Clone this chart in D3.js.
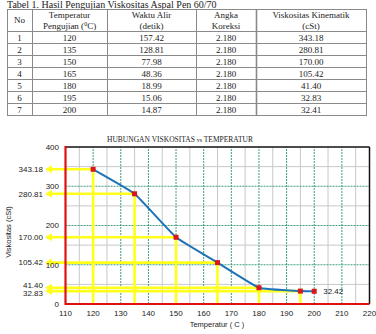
<!DOCTYPE html>
<html lang="id">
<head>
<meta charset="UTF-8">
<title>Viskositas vs Temperatur</title>
<script src="https://d3js.org/d3.v7.min.js"></script>
<style>
    body { margin: 0; background: #fff; }
    .serif { font-family: "Liberation Serif", "Times New Roman", serif; fill: #222; }
    .sans { font-family: "Liberation Sans", Arial, sans-serif; fill: #222; }
</style>
</head>
<body>
<svg id="chart"></svg>
<script>
    // table data
    const rowNo = [1, 2, 3, 4, 5, 6, 7];
    const suhu = [120, 135, 150, 165, 180, 195, 200];
    const waktu = ["157.42", "128.81", "77.98", "48.36", "18.99", "15.06", "14.87"];
    const koreksi = ["2.180", "2.180", "2.180", "2.180", "2.180", "2.180", "2.180"];
    const viskositas = [343.18, 280.81, 170.00, 105.42, 41.40, 32.83, 32.41];
    const viskText = ["343.18", "280.81", "170.00", "105.42", "41.40", "32.83", "32.41"];

    // chart labels (last point label as printed in the figure)
    const arrowLabels = ["343.18", "280.81", "170.00", "105.42", "41.40", "32.83"];
    const lastLabel = "32.42";
    const xTicks = d3.range(110, 221, 10);
    const yTicks = [0, 100, 200, 300, 400];

    const W = 376, H = 334;
    const svg = d3.select("#chart").attr("width", W).attr("height", H);

    // ---- table ----
    svg.append("text").attr("class", "serif")
        .attr("x", 7).attr("y", 8).attr("font-size", 10)
        .text("Tabel 1. Hasil Pengujian Viskositas Aspal Pen 60/70");

    const colX = [7, 32, 107, 196, 256, 366];
    const headTop = 9, headBot = 31, rowH = 12;
    const tableBot = headBot + rowH * rowNo.length;
    const tbl = svg.append("g");

    // horizontal lines
    const hLines = [headTop, headBot].concat(rowNo.map((d, i) => headBot + rowH * (i + 1)));
    tbl.selectAll("line.h").data(hLines).enter().append("line")
        .attr("x1", colX[0]).attr("x2", colX[5])
        .attr("y1", d => d + 0.5).attr("y2", d => d + 0.5)
        .attr("stroke", "#8a8a8a").attr("stroke-width", 1);
    tbl.selectAll("line.v").data(colX).enter().append("line")
        .attr("x1", d => d + 0.5).attr("x2", d => d + 0.5)
        .attr("y1", headTop).attr("y2", tableBot + 1)
        .attr("stroke", "#8a8a8a").attr("stroke-width", (d, i) => i == 4 ? 1.6 : 1);

    const colC = colX.slice(0, 5).map((d, i) => (d + colX[i + 1]) / 2);
    const hdr1 = ["No", "Temperatur", "Waktu Alir", "Angka", "Viskositas Kinematik"];
    const hdr2 = ["", "Pengujian (", "(detik)", "Koreksi", "(cSt)"];
    hdr1.forEach((t, i) => {
        tbl.append("text").attr("class", "serif").attr("font-size", 9)
            .attr("text-anchor", "middle")
            .attr("x", colC[i]).attr("y", i == 0 ? 23 : 18).text(t);
    });
    hdr2.forEach((t, i) => {
        if (!t) return;
        const tx = tbl.append("text").attr("class", "serif").attr("font-size", 9)
            .attr("text-anchor", "middle").attr("x", colC[i]).attr("y", 28.5);
        if (i == 1) {
            tx.append("tspan").text("Pengujian (");
            tx.append("tspan").attr("font-size", 6).attr("dy", -3).text("0");
            tx.append("tspan").attr("dy", 3).text("C)");
        } else {
            tx.text(t);
        }
    });

    const rows = rowNo.map((d, i) => [String(d), String(suhu[i]), waktu[i], koreksi[i], viskText[i]]);
    rows.forEach((r, ri) => {
        r.forEach((t, ci) => {
            tbl.append("text").attr("class", "serif").attr("font-size", 9)
                .attr("text-anchor", "middle")
                .attr("x", colC[ci]).attr("y", headBot + rowH * ri + 9.5)
                .text(t);
        });
    });

    // ---- chart ----
    const x = d3.scaleLinear().domain([110, 220]).range([65.5, 369.5]);
    const y = d3.scaleLinear().domain([0, 400]).range([304, 147]);

    const grid = svg.append("g");
    // minor grid
    grid.selectAll("line.mx").data(d3.range(115, 220, 10)).enter().append("line")
        .attr("x1", d => x(d)).attr("x2", d => x(d)).attr("y1", y(0)).attr("y2", y(400))
        .attr("stroke", "#c8c8c8").attr("stroke-width", 1);
    grid.selectAll("line.my").data(d3.range(50, 400, 100)).enter().append("line")
        .attr("x1", x(110)).attr("x2", x(220)).attr("y1", d => y(d)).attr("y2", d => y(d))
        .attr("stroke", "#c8c8c8").attr("stroke-width", 1);
    // major dashed grid
    grid.selectAll("line.Mx").data(d3.range(120, 220, 10)).enter().append("line")
        .attr("x1", d => x(d)).attr("x2", d => x(d)).attr("y1", y(0)).attr("y2", y(400))
        .attr("stroke", "#3f9f78").attr("stroke-width", 1).attr("stroke-dasharray", "2,1");
    grid.selectAll("line.My").data([100, 200, 300]).enter().append("line")
        .attr("x1", x(110)).attr("x2", x(220)).attr("y1", d => y(d)).attr("y2", d => y(d))
        .attr("stroke", "#3f9f78").attr("stroke-width", 1).attr("stroke-dasharray", "2,1");

    // yellow guide lines with arrows
    const pts = suhu.map((t, i) => ({ t: t, v: viskositas[i] }));
    const guides = pts.slice(0, arrowLabels.length);
    const yel = svg.append("g");
    const yellow = "#ffff1a";
    guides.forEach(p => {
        yel.append("line").attr("x1", x(p.t)).attr("x2", x(p.t))
            .attr("y1", y(p.v)).attr("y2", y(0))
            .attr("stroke", yellow).attr("stroke-width", 2.6);
        yel.append("line").attr("x1", 50).attr("x2", x(p.t))
            .attr("y1", y(p.v)).attr("y2", y(p.v))
            .attr("stroke", yellow).attr("stroke-width", 2.6);
        yel.append("path")
            .attr("d", `M45,${y(p.v)} L52,${y(p.v) - 4} L52,${y(p.v) + 4} Z`)
            .attr("fill", yellow);
    });

    // axis frame
    svg.append("line").attr("x1", x(110)).attr("x2", x(220)).attr("y1", y(400)).attr("y2", y(400))
        .attr("stroke", "#111").attr("stroke-width", 1.5);
    svg.append("line").attr("x1", x(220)).attr("x2", x(220)).attr("y1", y(400)).attr("y2", y(0))
        .attr("stroke", "#111").attr("stroke-width", 1.5);
    svg.append("line").attr("x1", x(110)).attr("x2", x(220)).attr("y1", y(0)).attr("y2", y(0))
        .attr("stroke", "#e01010").attr("stroke-width", 2.2);
    svg.append("line").attr("x1", x(110)).attr("x2", x(110)).attr("y1", y(400) - 1).attr("y2", y(0) + 1)
        .attr("stroke", "#e01010").attr("stroke-width", 2.2);

    // data line (lightly smoothed)
    const line = d3.line().x(d => x(d.t)).y(d => y(d.v)).curve(d3.curveCardinal.tension(0.7));
    svg.append("path").datum(pts).attr("d", line)
        .attr("fill", "none").attr("stroke", "#1d72b8").attr("stroke-width", 2);
    svg.selectAll("rect.pt").data(pts).enter().append("rect")
        .attr("x", d => x(d.t) - 2.5).attr("y", d => y(d.v) - 2.5)
        .attr("width", 5).attr("height", 5).attr("fill", "#d81818");

    // value labels on the left, nudged apart where they collide
    const lab = guides.map((p, i) => ({ text: arrowLabels[i], y: y(p.v) }));
    for (let i = 1; i < lab.length; i++) {
        const gap = lab[i].y - lab[i - 1].y;
        if (gap < 8) {
            const mid = (lab[i].y + lab[i - 1].y) / 2;
            lab[i - 1].y = mid - 4;
            lab[i].y = mid + 4;
        }
    }
    svg.selectAll("text.vl").data(lab).enter().append("text")
        .attr("class", "sans").attr("font-size", 8).attr("text-anchor", "end")
        .attr("x", 43).attr("y", d => d.y).attr("dy", "0.35em").text(d => d.text);
    const last = pts[pts.length - 1];
    svg.append("text").attr("class", "sans").attr("font-size", 8)
        .attr("x", x(last.t) + 9).attr("y", y(last.v)).attr("dy", "0.35em").text(lastLabel);

    // tick labels
    svg.selectAll("text.xt").data(xTicks).enter().append("text")
        .attr("class", "sans").attr("font-size", 8).attr("text-anchor", "middle")
        .attr("x", d => x(d)).attr("y", 316).text(d => d);
    svg.selectAll("text.yt").data(yTicks).enter().append("text")
        .attr("class", "sans").attr("font-size", 8).attr("text-anchor", "end")
        .attr("x", 59).attr("y", d => y(d)).attr("dy", "0.35em").text(d => d);

    // titles
    const title = svg.append("text").attr("class", "serif").attr("font-size", 7.5)
        .attr("x", 107).attr("y", 142);
    title.append("tspan").text("HUBUNGAN VISKOSITAS ");
    title.append("tspan").attr("font-size", 6).text("vs");
    title.append("tspan").text(" TEMPERATUR");

    svg.append("text").attr("class", "sans").attr("font-size", 7.5).attr("text-anchor", "middle")
        .attr("x", 217).attr("y", 327).text("Temperatur ( C )");
    svg.append("text").attr("class", "sans").attr("font-size", 7.5).attr("text-anchor", "middle")
        .attr("transform", "translate(11,232) rotate(-90)").text("Viskositas (cSt)");
</script>
</body>
</html>
